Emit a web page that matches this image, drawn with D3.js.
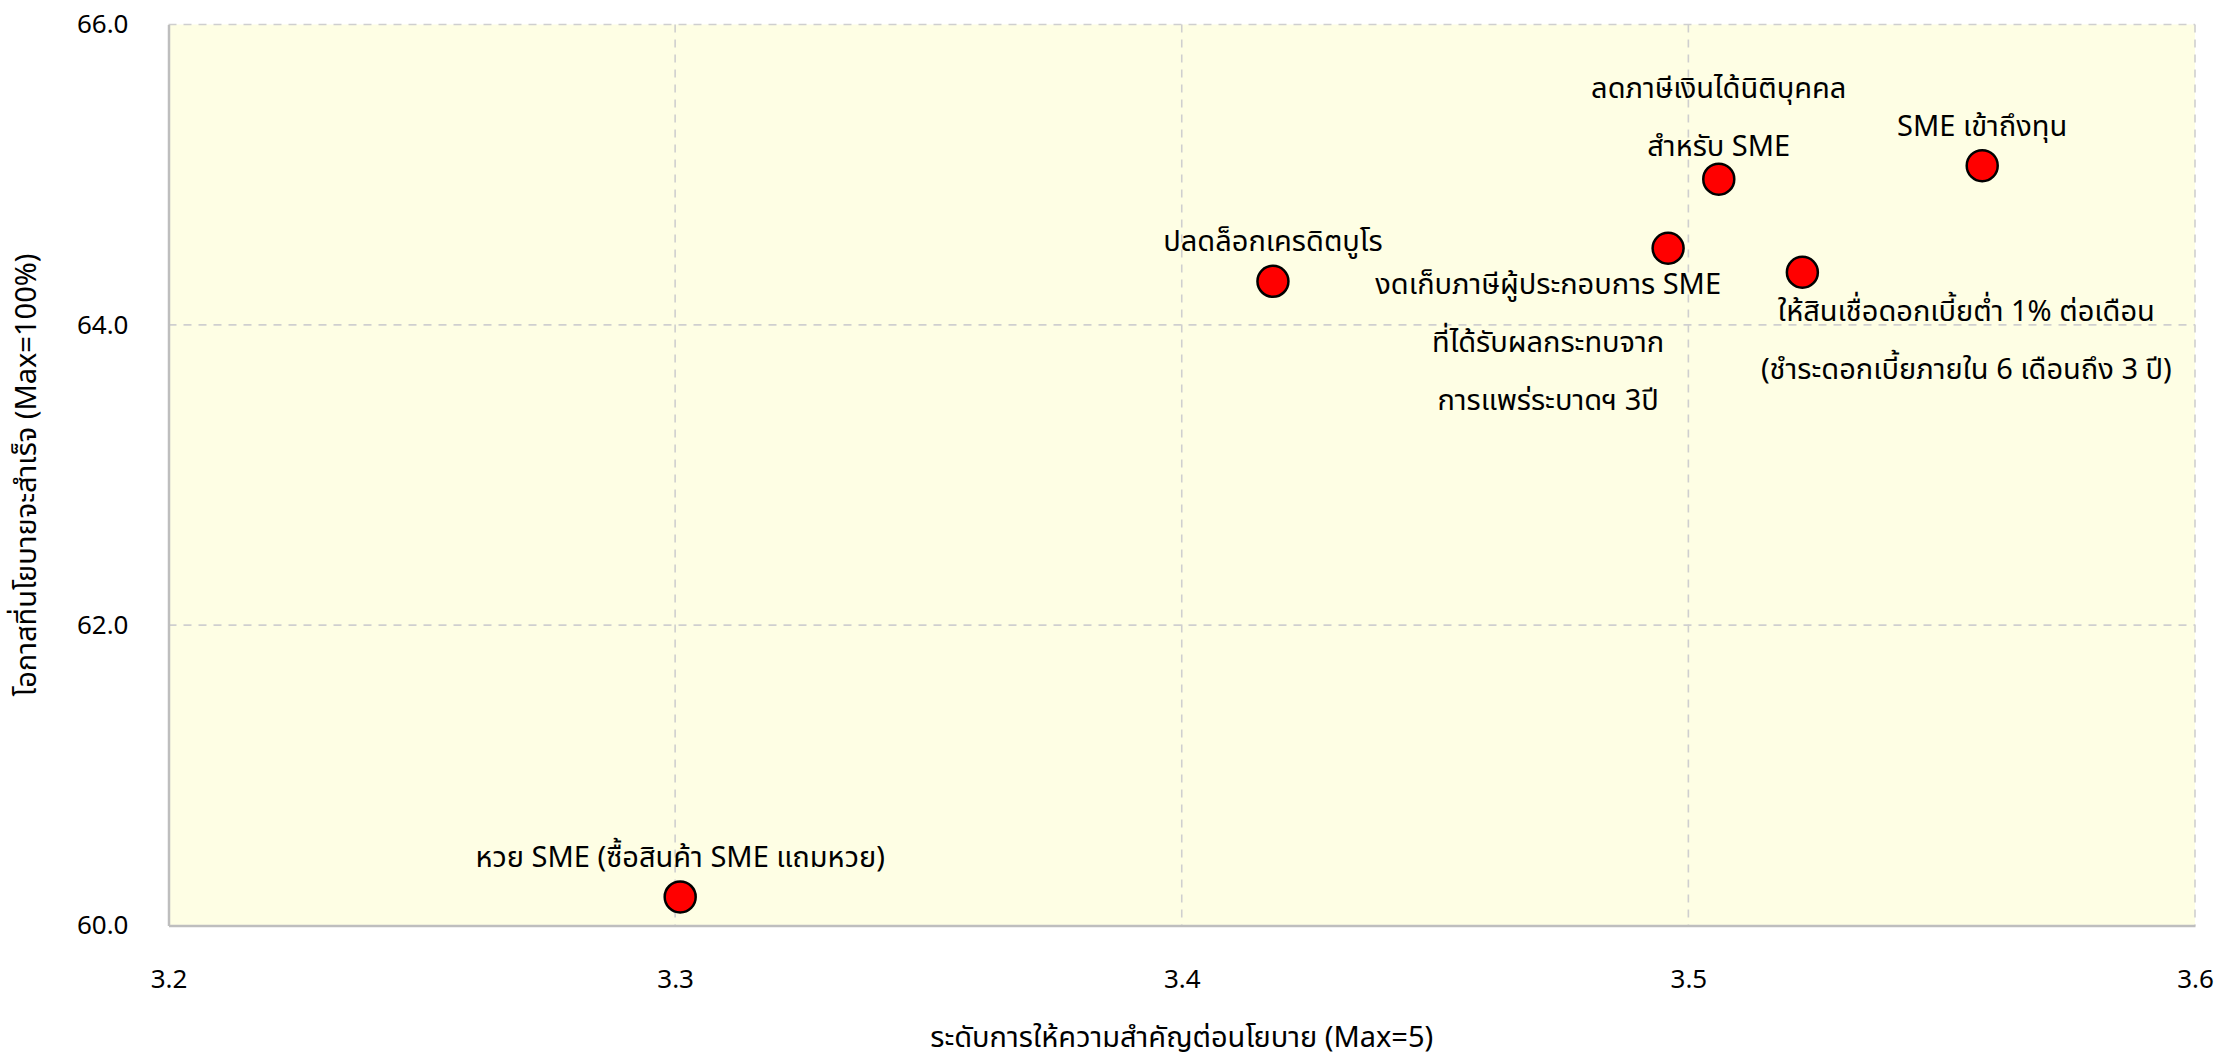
<!DOCTYPE html>
<html>
<head>
<meta charset="utf-8">
<script src="https://cdn.jsdelivr.net/npm/d3@7"></script>
<style>
  html, body { margin: 0; padding: 0; background: #ffffff; }
  svg { display: block; }
  text { font-family: Tahoma, "Noto Sans Thai", "Noto Sans", "DejaVu Sans", sans-serif; fill: #000; }
</style>
</head>
<body>
<svg id="chart" width="2239" height="1061"></svg>
<script>
// Policy names (multi-line labels split by line)
const policies = [
  ["หวย SME (ซื้อสินค้า SME แถมหวย)"],
  ["ปลดล็อกเครดิตบูโร"],
  ["งดเก็บภาษีผู้ประกอบการ SME", "ที่ได้รับผลกระทบจาก", "การแพร่ระบาดฯ 3ปี"],
  ["ลดภาษีเงินได้นิติบุคคล", "สำหรับ SME"],
  ["ให้สินเชื่อดอกเบี้ยต่ำ 1% ต่อเดือน", "(ชำระดอกเบี้ยภายใน 6 เดือนถึง 3 ปี)"],
  ["SME เข้าถึงทุน"]
];
// Importance score (Max = 5)
const importance = [3.301, 3.418, 3.496, 3.506, 3.5225, 3.558];
// Chance of success (Max = 100%)
const successChance = [60.19, 64.29, 64.51, 64.97, 64.35, 65.06];

const xTicks = [3.2, 3.3, 3.4, 3.5, 3.6];
const yTicks = [60, 62, 64, 66];

const xTitle = "ระดับการให้ความสำคัญต่อนโยบาย (Max=5)";
const yTitle = "โอกาสที่นโยบายจะสำเร็จ (Max=100%)";

// Label placement relative to each marker: [dx, dy of first line] in px
const labelOffset = [
  [0, -39],
  [0, -39],
  [-120, 37],
  [0, -90],
  [164, 40],
  [0, -39]
];
const lineGap = 58;

const svg = d3.select("#chart");
const W = 2239, H = 1061;
const m = { left: 168.5, right: W - 2195, top: 24.5, bottom: H - 925.5 };
const iw = W - m.left - m.right, ih = H - m.top - m.bottom;

const x = d3.scaleLinear().domain([3.2, 3.6]).range([0, iw]);
const y = d3.scaleLinear().domain([60, 66]).range([ih, 0]);

const g = svg.append("g").attr("transform", `translate(${m.left},${m.top})`);

// Plot background
g.append("rect").attr("x", 0).attr("y", 0).attr("width", iw).attr("height", ih)
  .attr("fill", "#FEFEE4");

// Dashed grid
g.append("g").selectAll("line").data(xTicks.filter(d => d > 3.2)).join("line")
  .attr("x1", d => x(d)).attr("x2", d => x(d)).attr("y1", 0).attr("y2", ih)
  .attr("stroke", "#CFCFCF").attr("stroke-width", 1.6).attr("stroke-dasharray", "8,7");
g.append("g").selectAll("line").data(yTicks.filter(d => d > 60)).join("line")
  .attr("x1", 0).attr("x2", iw).attr("y1", d => y(d)).attr("y2", d => y(d))
  .attr("stroke", "#CFCFCF").attr("stroke-width", 1.6).attr("stroke-dasharray", "8,7");

// Axes
const xAxis = d3.axisBottom(x).tickValues(xTicks).tickFormat(d3.format(".1f")).tickSize(0).tickPadding(44);
const yAxis = d3.axisLeft(y).tickValues(yTicks).tickFormat(d3.format(".1f")).tickSize(0).tickPadding(40);

const gx = g.append("g").attr("transform", `translate(0,${ih})`).call(xAxis);
const gy = g.append("g").call(yAxis);
[gx, gy].forEach(a => {
  a.select(".domain").attr("stroke", "#BEBEBE").attr("stroke-width", 2.5);
  a.selectAll("text").attr("font-size", 26)
    .style("font-family", 'Tahoma, "Noto Sans Thai", "Noto Sans", "DejaVu Sans", sans-serif');
});

// Axis titles
svg.append("text").attr("x", m.left + iw / 2).attr("y", 1038)
  .attr("text-anchor", "middle").attr("dominant-baseline", "central")
  .attr("font-size", 29).text(xTitle);
svg.append("text").attr("transform", `translate(27,${m.top + ih / 2}) rotate(-90)`)
  .attr("text-anchor", "middle").attr("dominant-baseline", "central")
  .attr("font-size", 29).text(yTitle);

// Markers
g.append("g").selectAll("circle").data(importance).join("circle")
  .attr("cx", (d) => x(d))
  .attr("cy", (d, i) => y(successChance[i]))
  .attr("r", 15.5)
  .attr("fill", "#FF0000").attr("stroke", "#000").attr("stroke-width", 2.5);

// Labels
const labels = g.append("g");
policies.forEach((lines, i) => {
  const cx = x(importance[i]) + labelOffset[i][0];
  const cy = y(successChance[i]) + labelOffset[i][1];
  lines.forEach((line, k) => {
    labels.append("text")
      .attr("x", cx).attr("y", cy + k * lineGap)
      .attr("text-anchor", "middle").attr("dominant-baseline", "central")
      .attr("font-size", 29).text(line);
  });
});
</script>
</body>
</html>
